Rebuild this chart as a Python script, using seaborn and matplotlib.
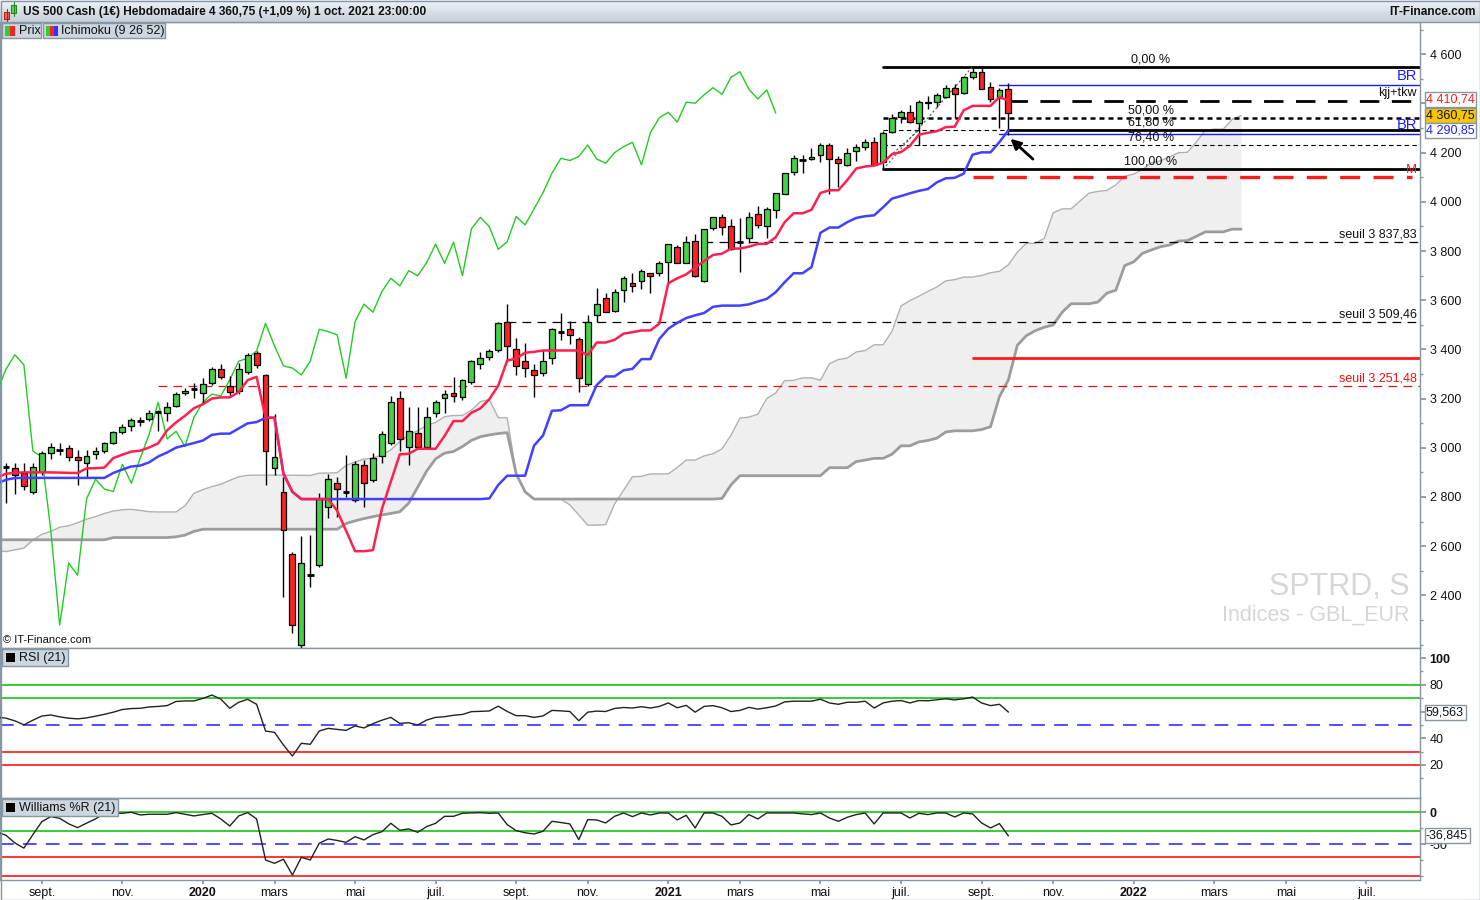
import numpy as np
import pandas as pd
import seaborn as sns
import matplotlib.pyplot as plt
import matplotlib.dates as mdates
from matplotlib import transforms
from matplotlib.patches import Rectangle
from matplotlib.ticker import FuncFormatter, MultipleLocator, FixedLocator
from matplotlib.colors import LinearSegmentedColormap

sns.set_theme(style='white')
plt.rcParams['font.family'] = ['Liberation Sans', 'DejaVu Sans']

# weekly candles of the US 500 cash, first week = 5 Aug 2019
first_week = '2019-08-05'
opens = [2918, 2917, 2897, 2820, 2903, 2978, 2994, 2998, 2962, 2939,
         2974, 2985, 3021, 3066, 3089, 3112, 3117, 3146, 3141, 3170,
         3222, 3240, 3222, 3263, 3322, 3253, 3231, 3307, 3385, 3296,
         2918, 2820, 2569, 2200, 2485, 2523, 2759, 2856, 2826, 2788,
         2930, 2870, 2967, 3019, 3202, 3005, 3059, 3005, 3141, 3202,
         3222, 3206, 3268, 3341, 3371, 3398, 3510, 3401, 3353, 3315,
         3303, 3364, 3475, 3482, 3441, 3258, 3540, 3608, 3558, 3642,
         3671, 3678, 3710, 3710, 3755, 3815, 3753, 3842, 3680, 3893,
         3937, 3903, 3840, 3852, 3950, 3903, 3967, 4032, 4120, 4172,
         4173, 4191, 4231, 4173, 4150, 4207, 4224, 4245, 4161, 4283,
         4344, 4367, 4320, 4407, 4407, 4428, 4462, 4441, 4506, 4529,
         4468, 4424, 4458]
highs = [2940, 2940, 2940, 2940, 2987, 3020, 3020, 3013, 2991, 2991,
         3005, 3025, 3068, 3095, 3120, 3127, 3154, 3153, 3187, 3226,
         3245, 3264, 3284, 3330, 3340, 3290, 3345, 3385, 3395, 3300,
         3137, 2883, 2578, 2642, 2646, 2815, 2894, 2883, 2971, 2945,
         2951, 2980, 3070, 3211, 3231, 3166, 3166, 3166, 3195, 3236,
         3287, 3280, 3355, 3390, 3400, 3510, 3585, 3446, 3428, 3341,
         3398, 3488, 3547, 3516, 3452, 3540, 3650, 3630, 3645, 3700,
         3712, 3726, 3712, 3760, 3828, 3823, 3860, 3871, 3890, 3940,
         3950, 3930, 3935, 3960, 3983, 3978, 4037, 4118, 4191, 4191,
         4219, 4238, 4241, 4188, 4218, 4234, 4255, 4262, 4286, 4356,
         4372, 4394, 4414, 4429, 4442, 4475, 4479, 4513, 4549.5, 4548,
         4486, 4464, 4482]
lows = [2775, 2812, 2829, 2814, 2890, 2955, 2970, 2946, 2849, 2882,
        2955, 2980, 3015, 3058, 3070, 3090, 3110, 3070, 3108, 3165,
        3215, 3203, 3182, 3255, 3280, 3212, 3220, 3300, 3325, 2849,
        2890, 2395, 2247, 2188, 2433, 2515, 2716, 2720, 2800, 2780,
        2761, 2860, 2940, 3012, 2985, 2930, 2997, 2995, 3125, 3140,
        3188, 3195, 3260, 3320, 3355, 3390, 3350, 3296, 3287, 3206,
        3290, 3340, 3439, 3420, 3228, 3250, 3510, 3550, 3550, 3594,
        3633, 3647, 3628, 3699, 3670, 3750, 3750, 3694, 3675, 3885,
        3865, 3805, 3716, 3834, 3894, 3853, 3936, 4030, 4110, 4116,
        4170, 4160, 4032, 4062, 4145, 4167, 4212, 4150, 4132, 4278,
        4321, 4321, 4231, 4379, 4384, 4424, 4342, 4438, 4500, 4458,
        4407, 4302, 4272]
closes = [2922, 2890, 2846, 2921, 2978, 3002, 2990, 2962, 2951, 2967,
          2986, 3019, 3063, 3086, 3113, 3108, 3142, 3147, 3167, 3218,
          3231, 3237, 3258, 3320, 3287, 3227, 3320, 3378, 3337, 2987,
          2963, 2666, 2279, 2531, 2482, 2792, 2872, 2832, 2822, 2933,
          2856, 2958, 3055, 3185, 3036, 3067, 3005, 3124, 3185, 3218,
          3211, 3276, 3352, 3364, 3394, 3506, 3414, 3333, 3324, 3296,
          3353, 3482, 3472, 3459, 3283, 3513, 3584, 3551, 3635, 3689,
          3658, 3720, 3699, 3753, 3828, 3750, 3836, 3700, 3890, 3937,
          3899, 3807, 3838, 3940, 3906, 3971, 4037, 4116, 4177, 4168,
          4184, 4231, 4174, 4157, 4200, 4224, 4242, 4150, 4281, 4342,
          4364, 4324, 4405, 4401, 4435, 4464, 4437, 4506, 4529, 4458,
          4418, 4455, 4360.75]

# Ichimoku lines, from the week of 29 Jul 2019
tenkan = [2880, 2894, 2899, 2900, 2900, 2900, 2900, 2899, 2898, 2897.5,
          2916, 2917, 2919.5, 2958.5, 2972, 2984.5, 2988, 3001.5, 3018, 3071,
          3103, 3130, 3161, 3177, 3200, 3205, 3205, 3226.5, 3275, 3288.5,
          3122, 3122, 2895, 2821, 2791.5, 2791.5, 2791.5, 2791.5, 2744, 2662.5,
          2579.5, 2579.5, 2584, 2751.5, 2863, 2973.5, 2975.5, 2996, 2996, 2996,
          3048, 3108.5, 3108.5, 3142.5, 3160, 3197.5, 3252.5, 3355, 3362.5, 3386.5,
          3390, 3395.5, 3395.5, 3395.5, 3395.5, 3395.5, 3376.5, 3428, 3428, 3439,
          3464, 3470, 3477, 3477, 3505, 3669, 3689, 3705, 3732.5, 3759,
          3784, 3789, 3810, 3810, 3817.5, 3829, 3829, 3856, 3917, 3953.5,
          3953.5, 3967.5, 4036, 4047, 4047, 4088.5, 4135.5, 4143.5, 4147, 4159,
          4194, 4202, 4228, 4273, 4280.5, 4287, 4303.5, 4305.5, 4372, 4390,
          4390, 4390, 4426, 4410.74]
kijun = [2855, 2870, 2877, 2877.5, 2877.5, 2877.5, 2877.5, 2877.5, 2877.5, 2877.5,
         2877.5, 2877.5, 2877.5, 2898, 2911.5, 2924, 2927.5, 2941, 2964.5, 2981,
         3000.5, 3010, 3019.5, 3029.5, 3052.5, 3057.5, 3057.5, 3078.5, 3099.5, 3104.5,
         3122, 3122, 2895, 2821, 2791.5, 2791.5, 2791.5, 2791.5, 2791.5, 2791.5,
         2791.5, 2791.5, 2791.5, 2791.5, 2791.5, 2791.5, 2791.5, 2791.5, 2791.5, 2791.5,
         2791.5, 2791.5, 2791.5, 2791.5, 2791.5, 2794, 2849, 2886.5, 2886.5, 2886.5,
         3009, 3050, 3150.5, 3152.5, 3173, 3173, 3173, 3255, 3290, 3290,
         3315, 3321, 3360.5, 3360.5, 3442.5, 3484, 3508, 3527.5, 3538.5, 3548,
         3573, 3578, 3578, 3578, 3583, 3594.5, 3605.5, 3632.5, 3673, 3709.5,
         3709.5, 3734.5, 3874, 3895.5, 3895.5, 3917.5, 3934.5, 3941.5, 3945, 3978,
         4013, 4023.5, 4034.5, 4044.5, 4052, 4079, 4095.5, 4097.5, 4114.5, 4191.75,
         4201, 4201, 4243, 4290.85]
span_a = [2582, 2578, 2585, 2592, 2625, 2648, 2660, 2677, 2683, 2695,
          2710, 2720, 2733, 2743, 2748, 2750, 2745, 2740, 2739, 2739,
          2739, 2764, 2815, 2830, 2842, 2852, 2867.5, 2882, 2888, 2888.75,
          2888.75, 2888.75, 2888.75, 2888.25, 2887.75, 2887.5, 2896.75, 2897.25, 2898.5, 2928.25,
          2941.75, 2954.25, 2957.75, 2971.25, 2991.25, 3026, 3051.75, 3070, 3090.25, 3103.25,
          3126.25, 3131.25, 3131.25, 3152.5, 3187.25, 3196.5, 3122, 3122, 2895, 2821,
          2791.5, 2791.5, 2791.5, 2791.5, 2767.75, 2727, 2685.5, 2685.5, 2687.75, 2771.5,
          2827.25, 2882.5, 2883.5, 2893.75, 2893.75, 2893.75, 2919.75, 2950, 2950, 2967,
          2975.75, 2995.75, 3050.75, 3120.75, 3124.5, 3136.5, 3199.5, 3222.75, 3273, 3274,
          3284.25, 3284.25, 3274.75, 3341.5, 3359, 3364.5, 3389.5, 3395.5, 3418.75, 3418.75,
          3473.75, 3576.5, 3598.5, 3616.25, 3635.5, 3653.5, 3678.5, 3683.5, 3694, 3694,
          3700.25, 3711.75, 3717.25, 3744.25, 3795, 3831.5, 3831.5, 3851, 3955, 3971.25,
          3971.25, 4003, 4035, 4042.5, 4046, 4068.5, 4103.5, 4112.75, 4131.25, 4158.75,
          4166.25, 4183, 4199.5, 4201.5, 4243.25, 4290.9, 4295.5, 4295.5, 4334.5, 4350.8]
span_b = [2626, 2626, 2626, 2626, 2626, 2626, 2626, 2626, 2626, 2626,
          2626, 2626, 2626, 2635, 2635, 2635, 2635, 2635, 2635, 2635,
          2638, 2645, 2660, 2669, 2669, 2669, 2669, 2669, 2669, 2669,
          2669, 2669, 2669, 2669, 2669, 2669, 2669, 2669, 2669, 2692,
          2703, 2712, 2720, 2727, 2733, 2740, 2775, 2840, 2905, 2955,
          2978, 2985, 3005, 3030, 3045, 3052, 3058, 3061.5, 2895, 2821,
          2791.5, 2791.5, 2791.5, 2791.5, 2791.5, 2791.5, 2791.5, 2791.5, 2791.5, 2791.5,
          2791.5, 2791.5, 2791.5, 2791.5, 2791.5, 2791.5, 2791.5, 2791.5, 2791.5, 2791.5,
          2791.5, 2794, 2849, 2886.5, 2886.5, 2886.5, 2886.5, 2886.5, 2886.5, 2886.5,
          2886.5, 2886.5, 2886.5, 2919, 2919, 2919, 2944, 2950, 2957, 2957,
          2974, 3008, 3008, 3024, 3029.5, 3039, 3064, 3069, 3069, 3069,
          3074, 3085.5, 3208, 3276, 3417, 3455.5, 3476, 3490, 3499.5, 3550.5,
          3585.5, 3585.5, 3585.5, 3592.5, 3628.5, 3640.5, 3740.5, 3756, 3791, 3804.5,
          3817.5, 3824, 3840.5, 3842.5, 3859.5, 3877.75, 3877.75, 3877.75, 3888.75, 3888.75]

rsi = [55.8, 55.0, 53.0, 50.0, 53.5, 56.6, 57.4, 56.0, 55.0, 54.5,
       55.2, 56.5, 57.9, 59.5, 61.5, 62.2, 62.4, 63.4, 63.8, 64.4,
       67.5, 67.9, 67.9, 69.8, 72.3, 69.3, 62.4, 66.9, 69.1, 65.4,
       45.4, 44.4, 35.0, 26.7, 36.2, 35.5, 45.4, 47.4, 46.6, 45.9,
       49.2, 47.7, 50.9, 53.5, 55.6, 51.1, 51.6, 49.9, 53.6, 55.6,
       56.1, 57.2, 57.8, 59.9, 60.1, 60.4, 64.0, 60.0, 56.9, 56.9,
       55.6, 56.7, 60.8, 60.5, 60.0, 53.1, 59.5, 60.3, 60.0, 62.3,
       63.0, 62.6, 63.6, 62.6, 63.8, 66.4, 62.8, 64.6, 59.5, 63.8,
       64.4, 62.8, 60.0, 60.8, 63.1, 61.8, 62.8, 64.1, 67.2, 67.7,
       67.7, 67.7, 69.2, 66.4, 65.4, 66.9, 66.9, 67.7, 62.6, 66.4,
       67.7, 68.2, 66.4, 68.2, 68.0, 68.8, 69.5, 68.7, 69.5, 70.8,
       66.4, 64.4, 65.4, 59.563]
williams = [-31, -36, -48, -56, -35, -14.7, -6.8, -9.4, -18, -24,
            -17, -10.4, -1.6, -1.6, -1.6, 0, -4.2, -3.1, -3.1, -3.1,
            -0.6, -3.1, -5.7, -3.5, -1.6, -10.4, -21.4, -5.7, -0.6, -10.4,
            -74.5, -79.7, -73.4, -98, -70.3, -74.5, -48.4, -41.7, -44, -46.9,
            -38.1, -43.2, -35, -30.3, -17.2, -28.1, -26, -31.3, -22.4, -17.2,
            -6.3, -6.3, -1.6, -1.0, -0.6, -1.6, -1.1, -19.3, -28.7, -32,
            -33.9, -29.7, -14.1, -16, -18.2, -42.7, -11.5, -12, -16.7, -6.3,
            -1.1, -6.8, -1.1, -4.2, -1.1, -1.1, -12, -4.7, -24.5, -1.1,
            -1.1, -6.3, -19.8, -16.7, -3.6, -10.4, -1.1, -1.1, -1.1, -1.1,
            -2.5, -3.6, -1.1, -8.9, -14.1, -7.8, -3.6, -1.1, -18.2, -1.1,
            -1.1, -1.1, -8.9, -1.6, -3.6, -1.1, -1.1, -7.3, -1.1, -2.6,
            -16.7, -24.5, -17.7, -36.845]

# drawn levels
fib_high, fib_low = 4549.5, 4132
fib_pcts = [0, 50, 61.8, 76.4, 100]
fib_texts = ['0,00 %', '50,00 %', '61,80 %', '76,40 %', '100,00 %']
seuils = [3837.83, 3509.46, 3251.48]
seuil_texts = ['seuil 3 837,83', 'seuil 3 509,46', 'seuil 3 251,48']

# ---------------------------------------------------------------- layout
W, H = 1480, 900
PX_DAY = 8.95 / 7
FS = 9
fig = plt.figure(figsize=(W / 100, H / 100), dpi=100)
fig.patch.set_facecolor('white')


def rect(left, top, right, bottom):
    return [left / W, 1 - bottom / H, (right - left) / W, (bottom - top) / H]


ax = fig.add_axes(rect(0, 22, 1420, 648))
rax = fig.add_axes(rect(0, 648, 1420, 798), sharex=ax)
wax = fig.add_axes(rect(0, 798, 1420, 880), sharex=ax)

weeks = mdates.date2num(pd.date_range(first_week, periods=len(closes), freq='7D'))
weeks_ext = mdates.date2num(pd.date_range('2019-07-29', periods=len(tenkan), freq='7D'))
cloud_x = mdates.date2num(pd.date_range('2019-07-29', periods=len(span_a), freq='7D'))
x0 = weeks[0] - 6 / PX_DAY


def px(p):
    return x0 + p / PX_DAY


x_right = px(1420)
ax.set_xlim(x0, x_right)
ax.set_ylim(2186, 4731)
rax.set_ylim(-4.7, 107.5)
wax.set_ylim(-105.8, 22.3)

edge = '#8796a3'
for a in (ax, rax, wax):
    a.set_facecolor('white')
    for s in a.spines.values():
        s.set_color(edge)
        s.set_linewidth(1)
    a.yaxis.tick_right()
    a.tick_params(axis='y', which='both', right=True, left=False, color=edge,
                  labelsize=FS, pad=3, labelcolor='#111111')
    a.tick_params(axis='y', which='major', length=4)
    a.tick_params(axis='y', which='minor', length=2)
    a.grid(False)

# ---------------------------------------------------------------- main panel
ax.fill_between(cloud_x, span_a, span_b, color='#efefef', lw=0, zorder=1)
sns.lineplot(x=cloud_x, y=span_a, ax=ax, color='#b0b0b0', linewidth=1, zorder=2)
sns.lineplot(x=cloud_x, y=span_b, ax=ax, color='#9c9c9c', linewidth=2, zorder=2)

chikou_x = weeks_ext[:len(closes) - 25]
sns.lineplot(x=chikou_x, y=closes[25:], ax=ax, color='#22cc22', linewidth=1, zorder=3)


def level(v, x_start, x_end=None, **kw):
    ax.plot([x_start, x_right if x_end is None else x_end], [v, v], zorder=2.5, **kw)


trans = transforms.blended_transform_factory(ax.transAxes, ax.transData)
x_lab = px(1151)
for pct, txt in zip(fib_pcts, fib_texts):
    v = fib_high - pct / 100 * (fib_high - fib_low)
    if pct in (0, 100):
        level(v, weeks[98], color='black', lw=2)
    elif pct == 50:
        level(v, weeks[98], color='black', lw=1.8, ls=(0, (2, 1.6)))
    else:
        level(v, weeks[98], color='black', lw=0.8, ls=(0, (4, 3)))
    ax.text(x_lab, v + 6, txt, ha='center', va='bottom', fontsize=FS, color='#111111', zorder=7)

ax.plot([weeks[98], weeks[108]], [fib_low, fib_high], color='#555555', lw=0.8, ls=(0, (2, 2)), zorder=2.5)
ax.plot([weeks[98], weeks[102]], [fib_low + 30, 4291], color='#555555', lw=0.8, ls=(0, (2, 2)), zorder=2.5)
ax.plot([weeks[102], weeks[102]], [4231, 4320], color='black', lw=0.8, zorder=2.5)

level(4290.85, weeks[112], color='black', lw=2)
level(4410.74, weeks[112], color='black', lw=2, ls=(0, (7, 4.5)))
level(4475, weeks[111], color='#1a1aff', lw=1)
level(4277, weeks[111], color='#1a1aff', lw=1)
level(4100, weeks[108], x_end=px(1412), color='#ff1a1a', lw=2.4, ls=(0, (6, 4)))
level(3365, weeks[108], color='#ff1a1a', lw=2)
level(seuils[0], weeks[78], color='black', lw=0.9, ls=(0, (7, 5)))
level(seuils[1], weeks[56], color='black', lw=0.9, ls=(0, (7, 5)))
level(seuils[2], weeks[17], color='#ee1111', lw=0.9, ls=(0, (7, 5)))

xr = 1417 / 1420
right_labels = [(4475, 'BR', '#1a1aff', 10.5), (4410.74, 'kjj+tkw', '#111111', FS),
                (4277, 'BR', '#1a1aff', 10.5), (4100, 'M', '#ff1a1a', 9.5),
                (seuils[0], seuil_texts[0], '#111111', FS), (seuils[1], seuil_texts[1], '#111111', FS),
                (seuils[2], seuil_texts[2], '#ee1111', FS)]
for v, txt, col, fs in right_labels:
    ax.text(xr, v + 6, txt, transform=trans, ha='right', va='bottom', color=col, fontsize=fs, zorder=7)

# candles
o, h, l, c = map(np.array, (opens, highs, lows, closes))
doji = np.abs(c - o) <= 5
body = ~doji
colors = np.where(c > o, '#45d045', '#ff2222')
ax.vlines(weeks, l, h, color='black', lw=1, zorder=5)
ax.bar(weeks[body], np.abs(c - o)[body], bottom=np.minimum(o, c)[body], width=4.6,
       color=colors[body], edgecolor='black', linewidth=0.9, zorder=6)
ax.hlines(c[doji], weeks[doji] - 2.6, weeks[doji] + 2.6, color='black', lw=2, zorder=6)

sns.lineplot(x=weeks_ext, y=kijun, ax=ax, color='#4040ff', linewidth=1.8, zorder=6.5)
sns.lineplot(x=weeks_ext, y=tenkan, ax=ax, color='#ff2050', linewidth=1.8, zorder=6.6)

ax.annotate('', xy=(weeks[112], 4264), xytext=(px(1035), 4166),
            arrowprops=dict(arrowstyle='-|>', color='black', lw=2, mutation_scale=15), zorder=8)

ax.text(1410 / 1420, 0.098, 'SPTRD, S', transform=ax.transAxes, ha='right', va='center',
        fontsize=22, color='#d6d6d6', zorder=0.5)
ax.text(1410 / 1420, 0.053, 'Indices - GBL_EUR', transform=ax.transAxes, ha='right', va='center',
        fontsize=15.5, color='#d6d6d6', zorder=0.5)
ax.text(0.002, 0.004, '© IT-Finance.com', transform=ax.transAxes, ha='left', va='bottom',
        fontsize=8, color='#111111')

ax.yaxis.set_major_locator(FixedLocator(range(2400, 4601, 200)))
ax.yaxis.set_minor_locator(MultipleLocator(100))
# the 4 400 label sits under the price tags
ax.yaxis.set_major_formatter(FuncFormatter(
    lambda v, p: '' if round(v) == 4400 else f'{int(round(v)):,}'.replace(',', ' ')))

# price tags stacked at the right edge
tag_x = 1426 / 1420
tags = [(0.8754, '4 410,74', 'white', '#ff1a1a'), (0.8514, '4 360,75', '#f7c600', '#111111'),
        (0.8259, '4 290,85', 'white', '#2020ff')]
for yf, txt, fc, col in tags:
    ax.text(tag_x, yf, txt, transform=ax.transAxes, ha='left', va='center', fontsize=FS, color=col,
            zorder=9, clip_on=False,
            bbox=dict(boxstyle='square,pad=0.12', fc=fc, ec='#8796a3', lw=1))

# ---------------------------------------------------------------- RSI panel
for v, col in ((80, '#00c000'), (70, '#00c000'), (30, '#ff0000'), (20, '#ff0000')):
    rax.axhline(v, color=col, lw=1.1, zorder=1)
rax.axhline(50, color='#2020ff', lw=1.1, ls=(0, (9, 6)), zorder=1)
sns.lineplot(x=weeks_ext, y=rsi, ax=rax, color='#222222', linewidth=1, zorder=3)
rax.yaxis.set_major_locator(FixedLocator([20, 40, 60, 80, 100]))
rax.yaxis.set_minor_locator(FixedLocator([10, 30, 50, 70, 90]))
rax.yaxis.set_major_formatter(FuncFormatter(lambda v, p: '' if v == 60 else f'{int(v)}'))
rtrans = transforms.blended_transform_factory(rax.transAxes, rax.transData)
rax.text(tag_x, rsi[-1], '59,563', transform=rtrans, ha='left', va='center', fontsize=FS,
         color='#111111', zorder=9, clip_on=False,
         bbox=dict(boxstyle='square,pad=0.12', fc='white', ec='#8796a3', lw=1))

# ---------------------------------------------------------------- Williams panel
for v, col in ((0, '#00c000'), (-30, '#00c000'), (-70, '#ff0000'), (-100, '#ff0000')):
    wax.axhline(v, color=col, lw=1.1, zorder=1)
wax.axhline(-50, color='#2020ff', lw=1.1, ls=(0, (9, 6)), zorder=1)
sns.lineplot(x=weeks_ext, y=williams, ax=wax, color='#222222', linewidth=1, zorder=3)
wax.yaxis.set_major_locator(FixedLocator([-50, 0]))
wax.yaxis.set_minor_locator(FixedLocator([-100, -75, -25]))
wax.yaxis.set_major_formatter(FuncFormatter(lambda v, p: f'{int(v)}'))
wtrans = transforms.blended_transform_factory(wax.transAxes, wax.transData)
wax.text(tag_x, williams[-1], '-36,845', transform=wtrans, ha='left', va='center', fontsize=FS,
         color='#111111', zorder=9, clip_on=False,
         bbox=dict(boxstyle='square,pad=0.12', fc='white', ec='#8796a3', lw=1))

for a in (rax, wax):
    for t in a.get_yticklabels():
        if t.get_text() in ('100', '0'):
            t.set_fontweight('bold')

# x axis (French months), labelled on the first weekly bar of each month
month_names = {3: 'mars', 5: 'mai', 7: 'juil.', 9: 'sept.', 11: 'nov.'}
month_starts = pd.date_range('2019-09-01', '2022-07-01', freq='2MS')
tick_dates = [d + pd.Timedelta(days=(7 - d.weekday()) % 7) for d in month_starts]
tick_labels = [str(d.year) if d.month == 1 else month_names[d.month] for d in month_starts]
wax.set_xticks(mdates.date2num(tick_dates))
wax.set_xticklabels(tick_labels)
for a in (ax, rax):
    a.tick_params(axis='x', bottom=False, labelbottom=False)
wax.tick_params(axis='x', bottom=True, length=3, color=edge, labelsize=FS, pad=2, labelcolor='#111111')
for t in wax.get_xticklabels():
    if t.get_text().isdigit():
        t.set_fontweight('bold')
for a in (ax, rax, wax):
    a.set_xlabel('')
    a.set_ylabel('')

# ---------------------------------------------------------------- overlay (header, legends)
ov = fig.add_axes([0, 0, 1, 1], zorder=20)
ov.axis('off')
grad = np.linspace(0, 1, 22).reshape(-1, 1)
cmap = LinearSegmentedColormap.from_list('hdr', ['#eef2f5', '#c5d0d9'])
ov.imshow(grad, extent=(0, W, 22, 0), cmap=cmap, aspect='auto', zorder=0)
ov.set_xlim(0, W)
ov.set_ylim(H, 0)
ov.plot([0, W], [22, 22], color=edge, lw=1)
ov.add_patch(Rectangle((0.5, 0.5), W - 1, H - 1, fill=False, ec=edge, lw=1))
# candle icon
ov.add_patch(Rectangle((4, 12), 5, 7, fc='#ff6060', ec='#aa2222', lw=0.8))
ov.plot([6.5, 6.5], [9, 21], color='#aa2222', lw=0.8)
ov.add_patch(Rectangle((11, 5), 5, 8, fc='#55dd55', ec='#228822', lw=0.8))
ov.plot([13.5, 13.5], [2, 16], color='#228822', lw=0.8)
ov.text(23, 12, 'US 500 Cash (1€) Hebdomadaire 4 360,75 (+1,09 %) 1 oct. 2021 23:00:00',
        fontsize=8.6, fontweight='bold', va='center', ha='left', color='#111111')
ov.text(1476, 12, 'IT-Finance.com', fontsize=8.6, fontweight='bold', va='center', ha='right',
        color='#111111')

box_fc, box_ec = '#cbd6de', '#8796a3'
ov.add_patch(Rectangle((2, 23), 39, 15, fc=box_fc, ec=box_ec, lw=1))
ov.add_patch(Rectangle((5, 26), 5, 10, fc='#33cc33', lw=0))
ov.add_patch(Rectangle((10, 26), 5, 10, fc='#ff2020', lw=0))
ov.text(19, 31, 'Prix', fontsize=FS, va='center', color='#111111')
ov.add_patch(Rectangle((43, 23), 122, 15, fc=box_fc, ec=box_ec, lw=1))
ov.add_patch(Rectangle((46, 26), 4, 10, fc='#33cc33', lw=0))
ov.add_patch(Rectangle((50, 26), 4, 10, fc='#ff2020', lw=0))
ov.add_patch(Rectangle((54, 26), 4, 10, fc='#3333ff', lw=0))
ov.text(61, 31, 'Ichimoku (9 26 52)', fontsize=FS, va='center', color='#111111')

ov.add_patch(Rectangle((2, 649), 66, 17, fc=box_fc, ec=box_ec, lw=1))
ov.add_patch(Rectangle((6, 653), 9, 9, fc='black', lw=0))
ov.text(19, 657.5, 'RSI (21)', fontsize=FS, va='center', color='#111111')
ov.add_patch(Rectangle((2, 799), 116, 17, fc=box_fc, ec=box_ec, lw=1))
ov.add_patch(Rectangle((6, 803), 9, 9, fc='black', lw=0))
ov.text(19, 807.5, 'Williams %R (21)', fontsize=FS, va='center', color='#111111')

fig.savefig('out.png', dpi=100)
